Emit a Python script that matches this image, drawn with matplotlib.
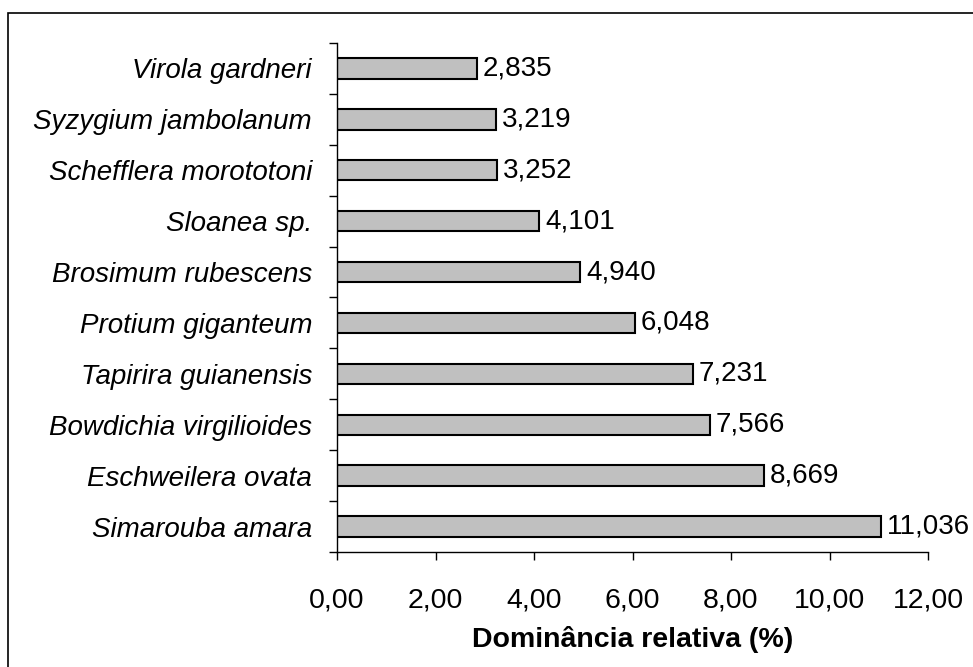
import numpy as np
import matplotlib.pyplot as plt
from matplotlib.patches import Rectangle

plt.rcParams["font.family"] = ["Liberation Sans", "DejaVu Sans"]

species = ["Simarouba amara", "Eschweilera ovata", "Bowdichia virgilioides",
           "Tapirira guianensis", "Protium giganteum", "Brosimum rubescens",
           "Sloanea sp.", "Schefflera morototoni", "Syzygium jambolanum",
           "Virola gardneri"]
dominance = [11.036, 8.669, 7.566, 7.231, 6.048, 4.940, 4.101, 3.252, 3.219, 2.835]
xticks = [0, 2, 4, 6, 8, 10, 12]

fig = plt.figure(figsize=(9.73, 6.67), dpi=100)
ax = fig.add_axes([337 / 973, 1 - 552 / 667, (928 - 337) / 973, (552 - 43) / 667])

y = np.arange(len(species))
ax.barh(y, dominance, height=0.4, color="#c0c0c0", edgecolor="black", linewidth=1.5)

for yi, v in zip(y, dominance):
    ax.text(v + 0.12, yi, f"{v:.3f}".replace(".", ","), va="center", ha="left",
            fontsize=20, clip_on=False)

ax.set_xlim(0, 12)
ax.set_ylim(-0.5, len(species) - 0.5)
ax.set_xticks(xticks)
ax.set_xticklabels([f"{t:.2f}".replace(".", ",") for t in xticks], fontsize=20.5)
ax.set_yticks(y)
ax.set_yticklabels(species, fontsize=20, style="italic")
ax.set_yticks(np.arange(len(species) + 1) - 0.5, minor=True)

ax.tick_params(axis="y", which="major", length=0, pad=18)
ax.tick_params(axis="y", which="minor", length=5.5, width=1, direction="out")
ax.tick_params(axis="x", which="major", length=5.5, width=1, direction="out", pad=20)

ax.spines["right"].set_visible(False)
ax.spines["top"].set_visible(False)
ax.spines["left"].set_linewidth(1)
ax.spines["bottom"].set_linewidth(1)

ax.set_xlabel("Dominância relativa (%)", fontsize=20.5, fontweight="bold", labelpad=9)

fig.patches.append(Rectangle((8 / 973, -0.05), 1.0, 1 - 13 / 667 + 0.05,
                             transform=fig.transFigure, fill=False,
                             edgecolor="black", linewidth=1.2))

fig.savefig("out.png", dpi=100)
